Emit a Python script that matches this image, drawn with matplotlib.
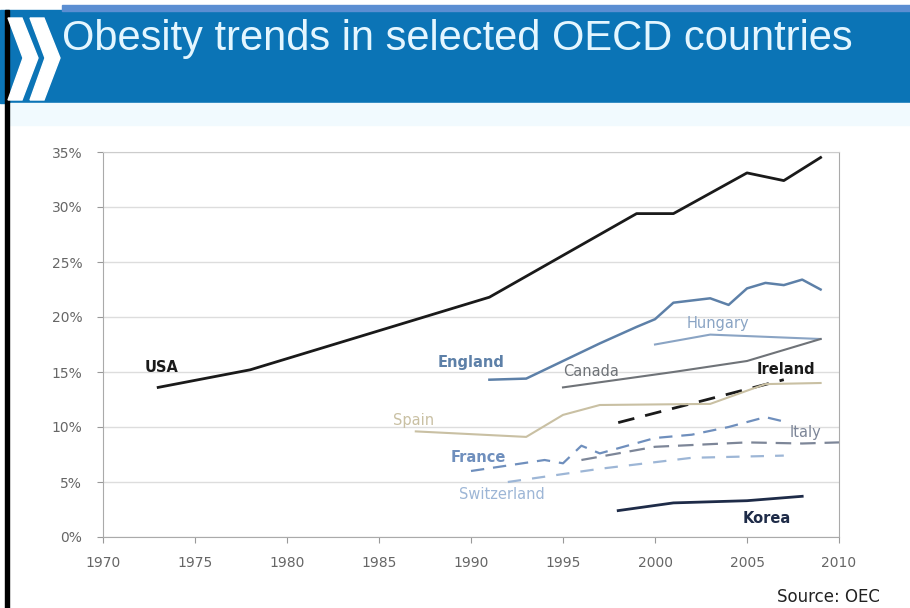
import matplotlib
matplotlib.use('Agg')
import matplotlib.pyplot as plt
from matplotlib.patches import Rectangle, Polygon

# data (percent obese)
usa_years = [1973, 1978, 1991, 1999, 2001, 2005, 2007, 2009]
usa_vals = [13.6, 15.2, 21.8, 29.4, 29.4, 33.1, 32.4, 34.5]

england_years = [1991, 1993, 1994, 1997, 1999, 2000, 2001, 2003, 2004, 2005, 2006, 2007, 2008, 2009]
england_vals = [14.3, 14.4, 15.2, 17.6, 19.1, 19.8, 21.3, 21.7, 21.1, 22.6, 23.1, 22.9, 23.4, 22.5]

hungary_years = [2000, 2003, 2009]
hungary_vals = [17.5, 18.4, 18.0]

canada_years = [1995, 2001, 2005, 2009]
canada_vals = [13.6, 15.0, 16.0, 18.0]

ireland_years = [1998, 2007]
ireland_vals = [10.4, 14.3]

spain_years = [1987, 1993, 1995, 1997, 2003, 2006, 2009]
spain_vals = [9.6, 9.1, 11.1, 12.0, 12.1, 13.9, 14.0]

france_years = [1990, 1992, 1994, 1995, 1996, 1997, 2000, 2002, 2004, 2006, 2007]
france_vals = [6.0, 6.5, 7.0, 6.7, 8.3, 7.6, 9.0, 9.3, 10.0, 10.9, 10.5]

italy_years = [1996, 2000, 2005, 2008, 2010]
italy_vals = [7.0, 8.2, 8.6, 8.5, 8.6]

swiss_years = [1992, 1997, 2002, 2007]
swiss_vals = [5.0, 6.2, 7.2, 7.4]

korea_years = [1998, 2001, 2005, 2008]
korea_vals = [2.4, 3.1, 3.3, 3.7]

x_ticks = [1970, 1975, 1980, 1985, 1990, 1995, 2000, 2005, 2010]
y_ticks = [0, 5, 10, 15, 20, 25, 30, 35]

fig = plt.figure(figsize=(9.1, 6.08), dpi=100)
fig.patch.set_facecolor('white')

# header band
fig.patches.append(Rectangle((0, 1 - 103/608), 1, 93/608, transform=fig.transFigure,
                             color='#0b74b6', zorder=0))
fig.patches.append(Rectangle((62/910, 1 - 11/608), 1, 6/608, transform=fig.transFigure,
                             color='#5b8ed2', zorder=1))
fig.patches.append(Rectangle((10/910, 1 - 125/608), 1, 22/608, transform=fig.transFigure,
                             color='#f1fafe', zorder=0))
fig.patches.append(Rectangle((5/910, 0), 4/910, 1 - 10/608, transform=fig.transFigure,
                             color='black', zorder=2))

# chevrons
def chevron(x0):
    pts = [(x0, 18), (x0 + 14, 18), (x0 + 30, 58), (x0 + 14, 100), (x0, 100), (x0 + 15, 58)]
    return Polygon([(x / 910, 1 - y / 608) for x, y in pts], closed=True,
                   transform=fig.transFigure, color='white', zorder=3)
fig.patches.append(chevron(8))
fig.patches.append(chevron(30))

fig.text(62/910, 1 - 39/608, 'Obesity trends in selected OECD countries', color='#e4f6ff',
         fontsize=30, family='Liberation Sans', va='center', ha='left')

ax = fig.add_axes([103/910, 1 - 537/608, 736/910, 385/608])
ax.set_xlim(1970, 2010)
ax.set_ylim(0, 35)
ax.set_xticks(x_ticks)
ax.set_yticks(y_ticks)
ax.set_yticklabels([f'{v}%' for v in y_ticks])
ax.tick_params(colors='#999999', labelcolor='#666666', labelsize=10, length=4)
ax.tick_params(axis='x', pad=10)
ax.tick_params(axis='y', pad=11)
ax.grid(axis='y', color='#dddddd', linewidth=1)
ax.set_axisbelow(True)
for s in ['left', 'bottom', 'right', 'top']:
    ax.spines[s].set_color('#aaaaaa')
ax.spines['top'].set_color('#cccccc')

ax.plot(usa_years, usa_vals, color='#1a1a1a', lw=2)
ax.plot(england_years, england_vals, color='#5d80a8', lw=1.8)
ax.plot(hungary_years, hungary_vals, color='#8aa4c4', lw=1.5)
ax.plot(canada_years, canada_vals, color='#6f7378', lw=1.5)
ax.plot(ireland_years, ireland_vals, color='#1a1a1a', lw=2, dashes=(6, 4))
ax.plot(spain_years, spain_vals, color='#c9c0a3', lw=1.5)
ax.plot(france_years, france_vals, color='#6f8fbd', lw=1.6, dashes=(6, 4))
ax.plot(italy_years, italy_vals, color='#7d8698', lw=1.6, dashes=(7, 4), clip_on=False)
ax.plot(swiss_years, swiss_vals, color='#9db6d6', lw=1.6, dashes=(6, 5))
ax.plot(korea_years, korea_vals, color='#1e2b48', lw=2)

labels = [
    ('USA', 1973.2, 15.4, '#1a1a1a', 'bold'),
    ('England', 1990.0, 15.9, '#5d80a8', 'bold'),
    ('Hungary', 2003.4, 19.4, '#8aa4c4', 'normal'),
    ('Canada', 1996.5, 15.0, '#6f7378', 'normal'),
    ('Ireland', 2007.1, 15.2, '#1a1a1a', 'bold'),
    ('Spain', 1986.9, 10.6, '#c9c0a3', 'normal'),
    ('France', 1990.4, 7.2, '#6f8fbd', 'bold'),
    ('Switzerland', 1991.7, 3.9, '#9db6d6', 'normal'),
    ('Italy', 2008.2, 9.5, '#7d8698', 'normal'),
    ('Korea', 2006.1, 1.7, '#1e2b48', 'bold'),
]
for name, x, y, c, w in labels:
    ax.text(x, y, name, color=c, fontsize=10.5, fontweight=w, ha='center', va='center')

fig.text(880/910, 1 - 597/608, 'Source: OEC', fontsize=12, color='#222222', ha='right', va='center')

fig.savefig('out.png', dpi=100)
